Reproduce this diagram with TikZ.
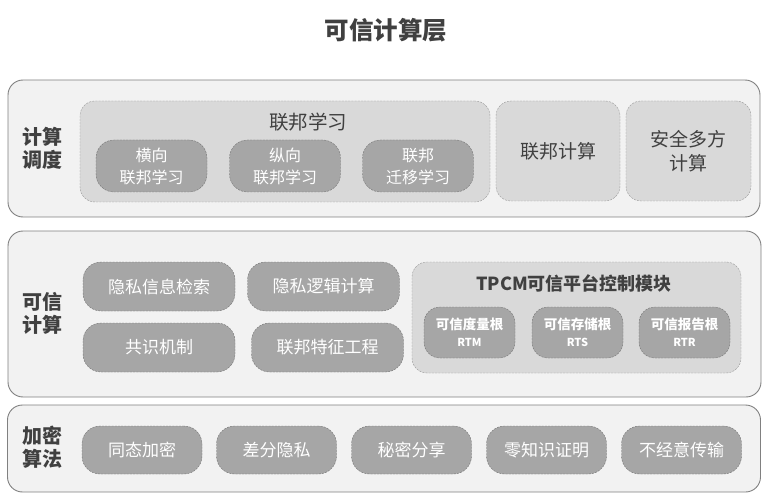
\documentclass[tikz,border=0pt]{standalone}
\usepackage{fontspec}
\setmainfont{Noto Sans CJK SC}
\usepackage{xcolor}
\definecolor{tc_dark}{RGB}{64, 64, 64}
\definecolor{tc_layer}{RGB}{242, 242, 242}
\definecolor{tc_edge}{RGB}{128, 128, 128}
\definecolor{tc_group}{RGB}{217, 217, 217}
\definecolor{tc_item}{RGB}{166, 166, 166}
\usetikzlibrary{positioning}

\begin{document}
\begin{tikzpicture}[x=1pt, y=-1pt,
        layer/.style={draw=tc_edge, fill=tc_layer, line width=0.9pt,
                      rounded corners=15pt, inner sep=0pt},
        group/.style={draw=tc_edge!80, fill=tc_group, dash pattern=on 2pt off 1.2pt,
                      rounded corners=15pt, align=center, inner sep=0pt,
                      text=tc_dark, font=\fontsize{19}{24}\selectfont},
        item/.style={draw=tc_edge!90!black, fill=tc_item, dash pattern=on 2pt off 1.2pt,
                     rounded corners=18pt, align=center, inner sep=0pt,
                     text=white, font=\fontsize{17}{22}\selectfont},
        root/.style={item, rounded corners=16pt, font=\bfseries\fontsize{13.5}{20}\selectfont},
        lbl/.style={align=center, text=tc_dark, font=\bfseries\fontsize{20}{23}\selectfont}]
        \useasboundingbox (0, 0) rectangle (769, 500);
        % Title
        \node[text=tc_dark, font=\bfseries\fontsize{24.5}{28}\selectfont] (title) at (386, 30)
          {可信计算层};
        % Scheduling layer
        \node[layer, minimum width=752pt, minimum height=137pt] (sched) at (384, 148.5) {};
        \node[lbl] (schedlbl) at (42, 148) {计算\\调度};
        \node[group, minimum width=410pt, minimum height=101pt] (fl) at (285, 151.5) {};
        \node[text=tc_dark, font=\fontsize{19.5}{24}\selectfont] (fltitle) at (308, 122) {联邦学习};
        \node[item, font=\fontsize{16}{22}\selectfont, minimum width=111pt, minimum height=52pt]
          (hfl) at (151.5, 166) {横向\\联邦学习};
        \node[item, font=\fontsize{16}{22}\selectfont, minimum width=111pt, minimum height=52pt]
          (vfl) at (285, 166) {纵向\\联邦学习};
        \node[item, font=\fontsize{16}{22}\selectfont, minimum width=111pt, minimum height=52pt]
          (ftl) at (418, 166) {联邦\\迁移学习};
        \node[group, minimum width=124pt, minimum height=100pt] (fc) at (558, 151)
          {联邦计算};
        \node[group, minimum width=125pt, minimum height=100pt] (mpc) at (688.5, 151)
          {安全多方\\计算};
        % Trusted computing layer
        \node[layer, minimum width=753pt, minimum height=166pt] (trust) at (384.5, 314) {};
        \node[lbl] (trustlbl) at (42, 313) {可信\\计算};
        \node[item, minimum width=152pt, minimum height=49pt] (pir) at (159, 286.5)
          {隐私信息检索};
        \node[item, minimum width=152pt, minimum height=49pt] (plc) at (323.5, 286.5)
          {隐私逻辑计算};
        \node[item, minimum width=152pt, minimum height=49pt] (cons) at (159, 347.5)
          {共识机制};
        \node[item, minimum width=152pt, minimum height=49pt] (ffe) at (327.5, 347.5)
          {联邦特征工程};
        \node[group, minimum width=329pt, minimum height=111pt] (tpcm) at (576.5, 317.5) {};
        \node[text=tc_dark, font=\bfseries\fontsize{18}{22}\selectfont] (tpcmtitle)
          at (574, 283) {TPCM可信平台控制模块};
        \node[root, minimum width=91pt, minimum height=51pt] (rtm) at (469.5, 332.5)
          {可信度量根\\[-3pt]{\fontsize{11}{14}\selectfont RTM}};
        \node[root, minimum width=91pt, minimum height=51pt] (rts) at (577.5, 332.5)
          {可信存储根\\[-3pt]{\fontsize{11}{14}\selectfont RTS}};
        \node[root, minimum width=91pt, minimum height=51pt] (rtr) at (684.5, 332.5)
          {可信报告根\\[-3pt]{\fontsize{11}{14}\selectfont RTR}};
        % Crypto layer
        \node[layer, minimum width=753pt, minimum height=87pt] (crypto) at (384, 448.5) {};
        \node[lbl] (cryptolbl) at (42, 447) {加密\\算法};
        \node[item, minimum width=120pt, minimum height=48pt] (he) at (142, 450) {同态加密};
        \node[item, minimum width=120pt, minimum height=48pt] (dp) at (276.5, 450) {差分隐私};
        \node[item, minimum width=120pt, minimum height=48pt] (ss) at (411.5, 450) {秘密分享};
        \node[item, minimum width=120pt, minimum height=48pt] (zkp) at (546.5, 450) {零知识证明};
        \node[item, minimum width=120pt, minimum height=48pt] (ot) at (681.5, 450) {不经意传输};
      \end{tikzpicture}
\end{document}
